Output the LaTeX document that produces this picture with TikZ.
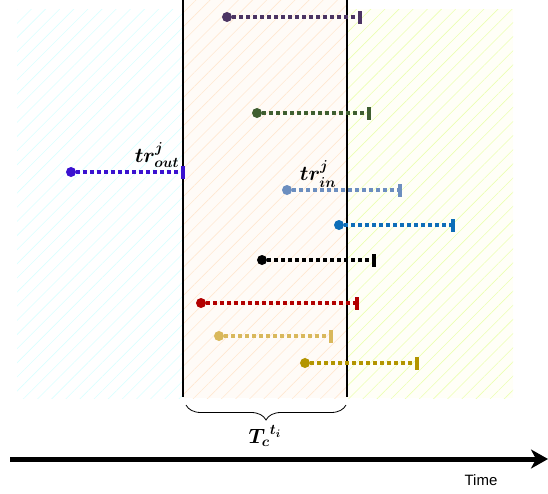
\documentclass[tikz,border=0pt]{standalone}
\usepackage{amsmath,amssymb,bm}
\usepackage{fontspec}
\newfontfamily\timefont{Liberation Sans}
\usetikzlibrary{arrows.meta,calc,positioning,patterns.meta,decorations.pathreplacing}
\definecolor{cPurple}{HTML}{4C3463}
\definecolor{cOlive}{HTML}{3F5E30}
\definecolor{cViolet}{HTML}{3A12D0}
\definecolor{cSteel}{HTML}{6C8EBF}
\definecolor{cBlue}{HTML}{0E6EB8}
\definecolor{cRed}{HTML}{B20000}
\definecolor{cSand}{HTML}{D9B85C}
\definecolor{cGold}{HTML}{B39500}

\begin{document}
\begin{tikzpicture}[x=1pt,y=-1pt,
    dot/.style={circle, fill=#1, inner sep=0pt, minimum size=10pt},
    trace/.style={#1, line width=3.5pt, dash pattern=on 4pt off 3pt,
        -{Rectangle[length=4pt,width=13pt]}},
    zone/.style={pattern={Lines[angle=45,distance=10pt,line width=0.6pt]}, pattern color=#1},
    lbl/.style={font=\fontsize{21}{24}\selectfont}]
    \useasboundingbox (0,0) rectangle (548,493);
    % time windows
    \fill[zone=cyan!15] (17,9) rectangle (183,398);
    \fill[orange!3] (183,0) rectangle (347,398);
    \fill[zone=orange!18] (183,0) rectangle (347,398);
    \fill[yellow!3] (347,9) rectangle (513,398);
    \fill[zone=lime!30] (347,9) rectangle (513,398);
    \draw[line width=1.2pt] (183,0) -- (183,397);
    \draw[line width=1.2pt] (347,0) -- (347,397);
    % traces
    \node[dot=cPurple] (s1) at (227,17) {};
    \coordinate (e1) at (362,17);
    \node[dot=cOlive] (s2) at (257,113) {};
    \coordinate (e2) at (371,113);
    \node[dot=cViolet] (s3) at (71,172) {};
    \coordinate (e3) at (185,172);
    \node[dot=cSteel] (s4) at (287,190) {};
    \coordinate (e4) at (402,190);
    \node[dot=cBlue] (s5) at (339,225) {};
    \coordinate (e5) at (455,225);
    \node[dot=black] (s6) at (262,260) {};
    \coordinate (e6) at (376,260);
    \node[dot=cRed] (s7) at (201,303) {};
    \coordinate (e7) at (359,303);
    \node[dot=cSand] (s8) at (219,336) {};
    \coordinate (e8) at (333,336);
    \node[dot=cGold] (s9) at (305,363) {};
    \coordinate (e9) at (419,363);
    \draw[trace=cPurple] (s1) -- (e1);
    \draw[trace=cOlive] (s2) -- (e2);
    \draw[trace=cViolet] (s3) -- (e3);
    \draw[trace=cSteel] (s4) -- (e4);
    \draw[trace=cBlue] (s5) -- (e5);
    \draw[trace=black] (s6) -- (e6);
    \draw[trace=cRed] (s7) -- (e7);
    \draw[trace=cSand] (s8) -- (e8);
    \draw[trace=cGold] (s9) -- (e9);
    \node[lbl] (out) at (157,155) {$\bm{tr^{j}_{out}}$};
    \node[lbl] (in) at (318,174) {$\bm{tr^{j}_{in}}$};
    % window width
    \draw[decorate, decoration={brace, mirror, amplitude=15pt}, line width=0.8pt]
        (186,405) -- (346,405);
    \node[lbl] (tc) at (265,436) {${\bm{T_c}}^{\bm{t_i}}$};
    % time axis
    \coordinate (t0) at (10,459);
    \coordinate (t1) at (548,459);
    \draw[line width=5pt, -{Stealth[length=17pt,width=19pt,inset=5pt]}] (t0) -- (t1);
    \node[font=\timefont\fontsize{15}{17}\selectfont] (time) at (481,480) {Time};
\end{tikzpicture}
\end{document}
